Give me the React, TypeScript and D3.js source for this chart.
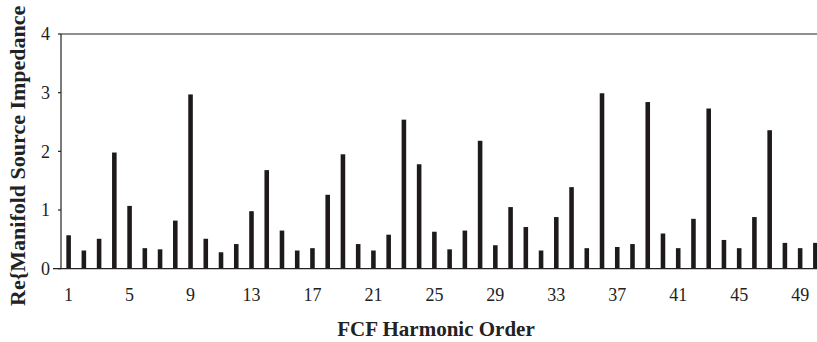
import { useRef, useEffect } from 'react'
import * as d3 from 'd3'

const ORDERS: number[] = d3.range(1, 51)
const IMPEDANCE: number[] = [
  0.57, 0.31, 0.51, 1.98, 1.07, 0.35, 0.33, 0.82, 2.97, 0.51,
  0.28, 0.42, 0.98, 1.68, 0.65, 0.31, 0.35, 1.26, 1.95, 0.42,
  0.31, 0.58, 2.54, 1.78, 0.63, 0.33, 0.65, 2.18, 0.40, 1.05,
  0.71, 0.31, 0.88, 1.39, 0.35, 2.99, 0.37, 0.42, 2.84, 0.60,
  0.35, 0.85, 2.73, 0.49, 0.35, 0.88, 2.36, 0.44, 0.35, 0.44,
]
const X_TICKS: number[] = [1, 5, 9, 13, 17, 21, 25, 29, 33, 37, 41, 45, 49]
const Y_TICKS: number[] = [0, 1, 2, 3, 4]

const W = 817
const H = 342
const FONT = '"Liberation Serif", "Times New Roman", serif'

export default function App() {
  const svgRef = useRef<SVGSVGElement>(null)

  useEffect(() => {
    if (!svgRef.current) return
    const svg = d3.select(svgRef.current)
    svg.selectAll('*').remove()

    const left = 61
    const right = 823
    const top = 34
    const bottom = 268.7

    const x = d3.scaleBand<number>()
      .domain(ORDERS)
      .range([left, right])
      .paddingInner(0.7)
      .paddingOuter(0.35)
    const y = d3.scaleLinear().domain([0, 4]).range([bottom, top])

    // top line at 4
    svg.append('line')
      .attr('x1', left).attr('x2', W)
      .attr('y1', y(4)).attr('y2', y(4))
      .attr('stroke', '#6a6a6a').attr('stroke-width', 1.3)

    // bars
    svg.append('g')
      .selectAll('rect')
      .data(IMPEDANCE)
      .join('rect')
      .attr('x', (_, i) => x(ORDERS[i])!)
      .attr('y', d => y(d))
      .attr('width', x.bandwidth())
      .attr('height', d => y(0) - y(d))
      .attr('fill', '#1e1a1a')

    // y axis
    svg.append('line')
      .attr('x1', left).attr('x2', left)
      .attr('y1', y(4)).attr('y2', bottom)
      .attr('stroke', '#222').attr('stroke-width', 1.2)
    svg.append('g')
      .selectAll('line')
      .data(Y_TICKS)
      .join('line')
      .attr('x1', left - 3).attr('x2', left)
      .attr('y1', d => y(d)).attr('y2', d => y(d))
      .attr('stroke', '#222').attr('stroke-width', 1.2)
    svg.append('g')
      .selectAll('text')
      .data(Y_TICKS)
      .join('text')
      .attr('x', 50)
      .attr('y', d => y(d))
      .attr('dy', '0.35em')
      .attr('text-anchor', 'end')
      .attr('font-family', FONT)
      .attr('font-size', 18)
      .attr('fill', '#222')
      .text(d => d)

    // x axis
    svg.append('line')
      .attr('x1', 53).attr('x2', W)
      .attr('y1', bottom).attr('y2', bottom)
      .attr('stroke', '#222').attr('stroke-width', 1.3)
    svg.append('g')
      .selectAll('text')
      .data(X_TICKS)
      .join('text')
      .attr('x', d => x(d)! + x.bandwidth() / 2)
      .attr('y', 301)
      .attr('text-anchor', 'middle')
      .attr('font-family', FONT)
      .attr('font-size', 18)
      .attr('fill', '#222')
      .text(d => d)

    // axis titles
    svg.append('text')
      .attr('x', 436)
      .attr('y', 335.5)
      .attr('text-anchor', 'middle')
      .attr('font-family', FONT)
      .attr('font-size', 21)
      .attr('font-weight', 700)
      .attr('fill', '#222')
      .text('FCF Harmonic Order')
    svg.append('text')
      .attr('transform', 'translate(25,306) rotate(-90)')
      .attr('text-anchor', 'start')
      .attr('font-family', FONT)
      .attr('font-size', 22)
      .attr('font-weight', 700)
      .attr('fill', '#222')
      .text('Re{Manifold Source Impedance')
  }, [])

  return (
    <svg
      ref={svgRef}
      width={W}
      height={H}
      style={{ position: 'absolute', left: 0, top: 0, background: '#fff' }}
    />
  )
}
